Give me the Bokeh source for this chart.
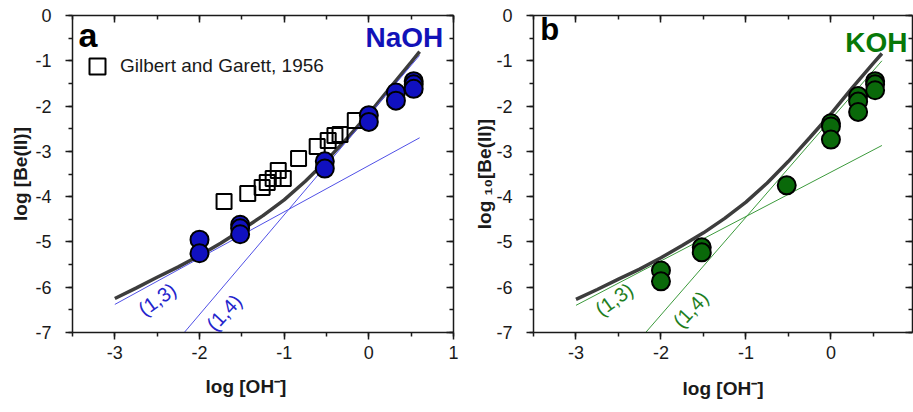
from bokeh.plotting import figure
from bokeh.models import (LinearAxis, SingleIntervalTicker, Label, Legend, LegendItem,
                          CustomJSTickFormatter, Range1d, Title)
from bokeh.layouts import row
from bokeh.embed import file_html
from bokeh.resources import INLINE

# ---------------- data ----------------
x_ticks = [-3, -2, -1, 0, 1]
x_tick_labels = ["-3", "-2", "-1", "0", "1"]
y_ticks = [0, -1, -2, -3, -4, -5, -6, -7]
y_tick_labels = ["0", "-1", "-2", "-3", "-4", "-5", "-6", "-7"]

# Panel a: NaOH
naoh_x = [-2, -2, -1.52, -1.52, -1.52, -0.52, -0.52, 0, 0, 0.32, 0.32, 0.53, 0.53, 0.53]
naoh_y = [-4.95, -5.25, -4.62, -4.70, -4.83, -3.22, -3.38, -2.20, -2.35, -1.70, -1.88, -1.45, -1.52, -1.62]

gg_x = [-1.71, -1.43, -1.26, -1.20, -1.13, -1.07, -1.01, -0.83, -0.61, -0.48, -0.40, -0.34, -0.16]
gg_y = [-4.11, -3.93, -3.80, -3.69, -3.60, -3.42, -3.60, -3.16, -2.89, -2.76, -2.65, -2.63, -2.32]

naoh_model_x = [-3, -2.75, -2.5, -2.25, -2, -1.75, -1.5, -1.25, -1, -0.75, -0.5, -0.25, 0, 0.25, 0.5, 0.6]
naoh_model_y = [-6.25, -6.02, -5.78, -5.55, -5.30, -5.03, -4.73, -4.42, -4.07, -3.66, -3.20, -2.70, -2.17, -1.60, -1.03, -0.80]
naoh_13_x = [-3, 0.6]
naoh_13_y = [-6.38, -2.70]
naoh_14_x = [-2.18, 0.6]
naoh_14_y = [-7.0, -0.88]

# Panel b: KOH
koh_x = [-2, -2, -1.52, -1.52, -0.52, 0, 0, 0, 0.32, 0.32, 0.32, 0.52, 0.52, 0.52]
koh_y = [-5.63, -5.87, -5.12, -5.23, -3.75, -2.38, -2.45, -2.74, -1.78, -1.90, -2.13, -1.45, -1.52, -1.65]

koh_model_x = [-3, -2.75, -2.5, -2.25, -2, -1.75, -1.5, -1.25, -1, -0.75, -0.5, -0.25, 0, 0.25, 0.5, 0.6]
koh_model_y = [-6.27, -6.05, -5.82, -5.60, -5.35, -5.08, -4.80, -4.48, -4.12, -3.70, -3.22, -2.70, -2.17, -1.60, -1.05, -0.84]
koh_13_x = [-3, 0.6]
koh_13_y = [-6.40, -2.87]
koh_14_x = [-2.18, 0.6]
koh_14_y = [-7.0, -1.0]

# ---------------- style ----------------
FONT = "Liberation Sans"
AX = "#1a1a1a"
BLUE_FILL = "#1010C0"
BLUE_TXT = "#1212B8"
BLUE_LINE = "#5050E6"
GREEN_FILL = "#0A690A"
GREEN_TXT = "#087808"
GREEN_LINE = "#3C9A3C"
DARK = "#3d3d3d"
X_LABEL = "log [OH⁻]"


def base_axis_style(ax):
    ax.axis_line_color = AX
    ax.axis_line_width = 1.5
    ax.major_tick_line_color = AX
    ax.major_tick_line_width = 1.5
    ax.minor_tick_line_color = AX
    ax.minor_tick_line_width = 1.5


def make_panel(width, xmax, min_left, min_right, ylabel, ylabel_standoff, xlabel):
    p = figure(width=width, height=410, x_range=Range1d(-3.5, xmax), y_range=Range1d(-7, 0),
               output_backend="svg", toolbar_location=None,
               min_border_left=min_left, min_border_right=min_right,
               min_border_top=15, min_border_bottom=78)
    p.xgrid.visible = False
    p.ygrid.visible = False
    p.outline_line_color = None
    for ax, ticks, labels in ((p.xaxis[0], x_ticks, x_tick_labels),
                              (p.yaxis[0], y_ticks, y_tick_labels)):
        ax.ticker = SingleIntervalTicker(interval=1, num_minor_ticks=2)
        ax.major_label_overrides = dict(zip(ticks, labels))
        ax.major_tick_out = 7
        ax.major_tick_in = 0
        ax.minor_tick_out = 4
        ax.minor_tick_in = 0
        ax.major_label_text_font = FONT
        ax.major_label_text_font_size = "18px"
        ax.major_label_text_color = AX
        ax.axis_label_text_font = FONT
        ax.axis_label_text_font_size = "19px"
        ax.axis_label_text_font_style = "bold"
        ax.axis_label_text_color = AX
        base_axis_style(ax)
    p.xaxis.major_label_standoff = 6
    p.xaxis.axis_label_standoff = 16
    p.yaxis.major_label_standoff = 14
    p.yaxis.axis_label_standoff = ylabel_standoff
    if xlabel:
        p.xaxis.axis_label = xlabel
    p.yaxis.axis_label = ylabel
    for place in ("above", "right"):
        m = LinearAxis(ticker=SingleIntervalTicker(interval=1, num_minor_ticks=2),
                       formatter=CustomJSTickFormatter(code="return ''"))
        m.major_tick_in = 7
        m.major_tick_out = 0
        m.minor_tick_in = 4
        m.minor_tick_out = 0
        m.major_label_standoff = 0
        m.major_label_text_font_size = "1px"
        base_axis_style(m)
        p.add_layout(m, place)
    return p


# ---------------- panel a ----------------
pa = make_panel(460, 1.0, 72, 7, "log [Be(II)]", 1, None)
pa.line(naoh_model_x, naoh_model_y, line_color=DARK, line_width=3.5)
pa.line(naoh_13_x, naoh_13_y, line_color=BLUE_LINE, line_width=1)
pa.line(naoh_14_x, naoh_14_y, line_color=BLUE_LINE, line_width=1)
sq = pa.scatter(gg_x, gg_y, marker="square", size=15, fill_color=None,
                line_color="black", line_width=2)
pa.scatter(naoh_x, naoh_y, marker="circle", size=18, fill_color=BLUE_FILL,
           line_color="black", line_width=2)

leg = Legend(items=[LegendItem(label="Gilbert and Garett, 1956", renderers=[sq])],
             location=(5, 246), glyph_width=40, glyph_height=40, label_standoff=3,
             padding=0, margin=0, spacing=0, border_line_color=None,
             background_fill_alpha=0, label_text_font=FONT,
             label_text_font_size="19px", label_text_color=AX)
pa.add_layout(leg)

# x-axis title of panel a sits a little left of the frame centre in the original
pa.add_layout(Title(text=X_LABEL, align="left", offset=133, standoff=24,
                    text_font=FONT, text_font_size="19px", text_font_style="bold",
                    text_color=AX), "below")
pa.add_layout(Label(x=-3.43, y=-0.44, text="a", text_font=FONT, text_font_size="34px",
                    text_font_style="bold", text_color="black", text_baseline="middle"))
pa.add_layout(Label(x=0.88, y=-0.48, text="NaOH", text_font=FONT, text_font_size="28px",
                    text_font_style="bold", text_color=BLUE_TXT, text_align="right",
                    text_baseline="middle"))
pa.add_layout(Label(x=-2.50, y=-6.27, text="(1,3)", text_font=FONT, text_font_size="20px",
                    text_color="#2424CC", angle=0.62, text_align="center",
                    text_baseline="middle"))
pa.add_layout(Label(x=-1.71, y=-6.56, text="(1,4)", text_font=FONT, text_font_size="20px",
                    text_color="#2424CC", angle=0.82, text_align="center",
                    text_baseline="middle"))

# ---------------- panel b ----------------
pb = make_panel(453, 0.96, 73, 1, "log ₁₀[Be(II)]", -2, X_LABEL)
pb.line(koh_model_x, koh_model_y, line_color=DARK, line_width=3.5)
pb.line(koh_13_x, koh_13_y, line_color=GREEN_LINE, line_width=1)
pb.line(koh_14_x, koh_14_y, line_color=GREEN_LINE, line_width=1)
pb.scatter(koh_x, koh_y, marker="circle", size=18, fill_color=GREEN_FILL,
           line_color="black", line_width=2)

pb.add_layout(Label(x=-3.42, y=-0.32, text="b", text_font=FONT, text_font_size="31px",
                    text_font_style="bold", text_color="black", text_baseline="middle"))
pb.add_layout(Label(x=0.90, y=-0.60, text="KOH", text_font=FONT, text_font_size="28px",
                    text_font_style="bold", text_color=GREEN_TXT, text_align="right",
                    text_baseline="middle"))
pb.add_layout(Label(x=-2.55, y=-6.27, text="(1,3)", text_font=FONT, text_font_size="20px",
                    text_color="#1E7E1E", angle=0.62, text_align="center",
                    text_baseline="middle"))
pb.add_layout(Label(x=-1.65, y=-6.49, text="(1,4)", text_font=FONT, text_font_size="20px",
                    text_color="#1E7E1E", angle=0.82, text_align="center",
                    text_baseline="middle"))

layout = row(pa, pb)
open("out.html", "w").write(file_html(layout, INLINE))
